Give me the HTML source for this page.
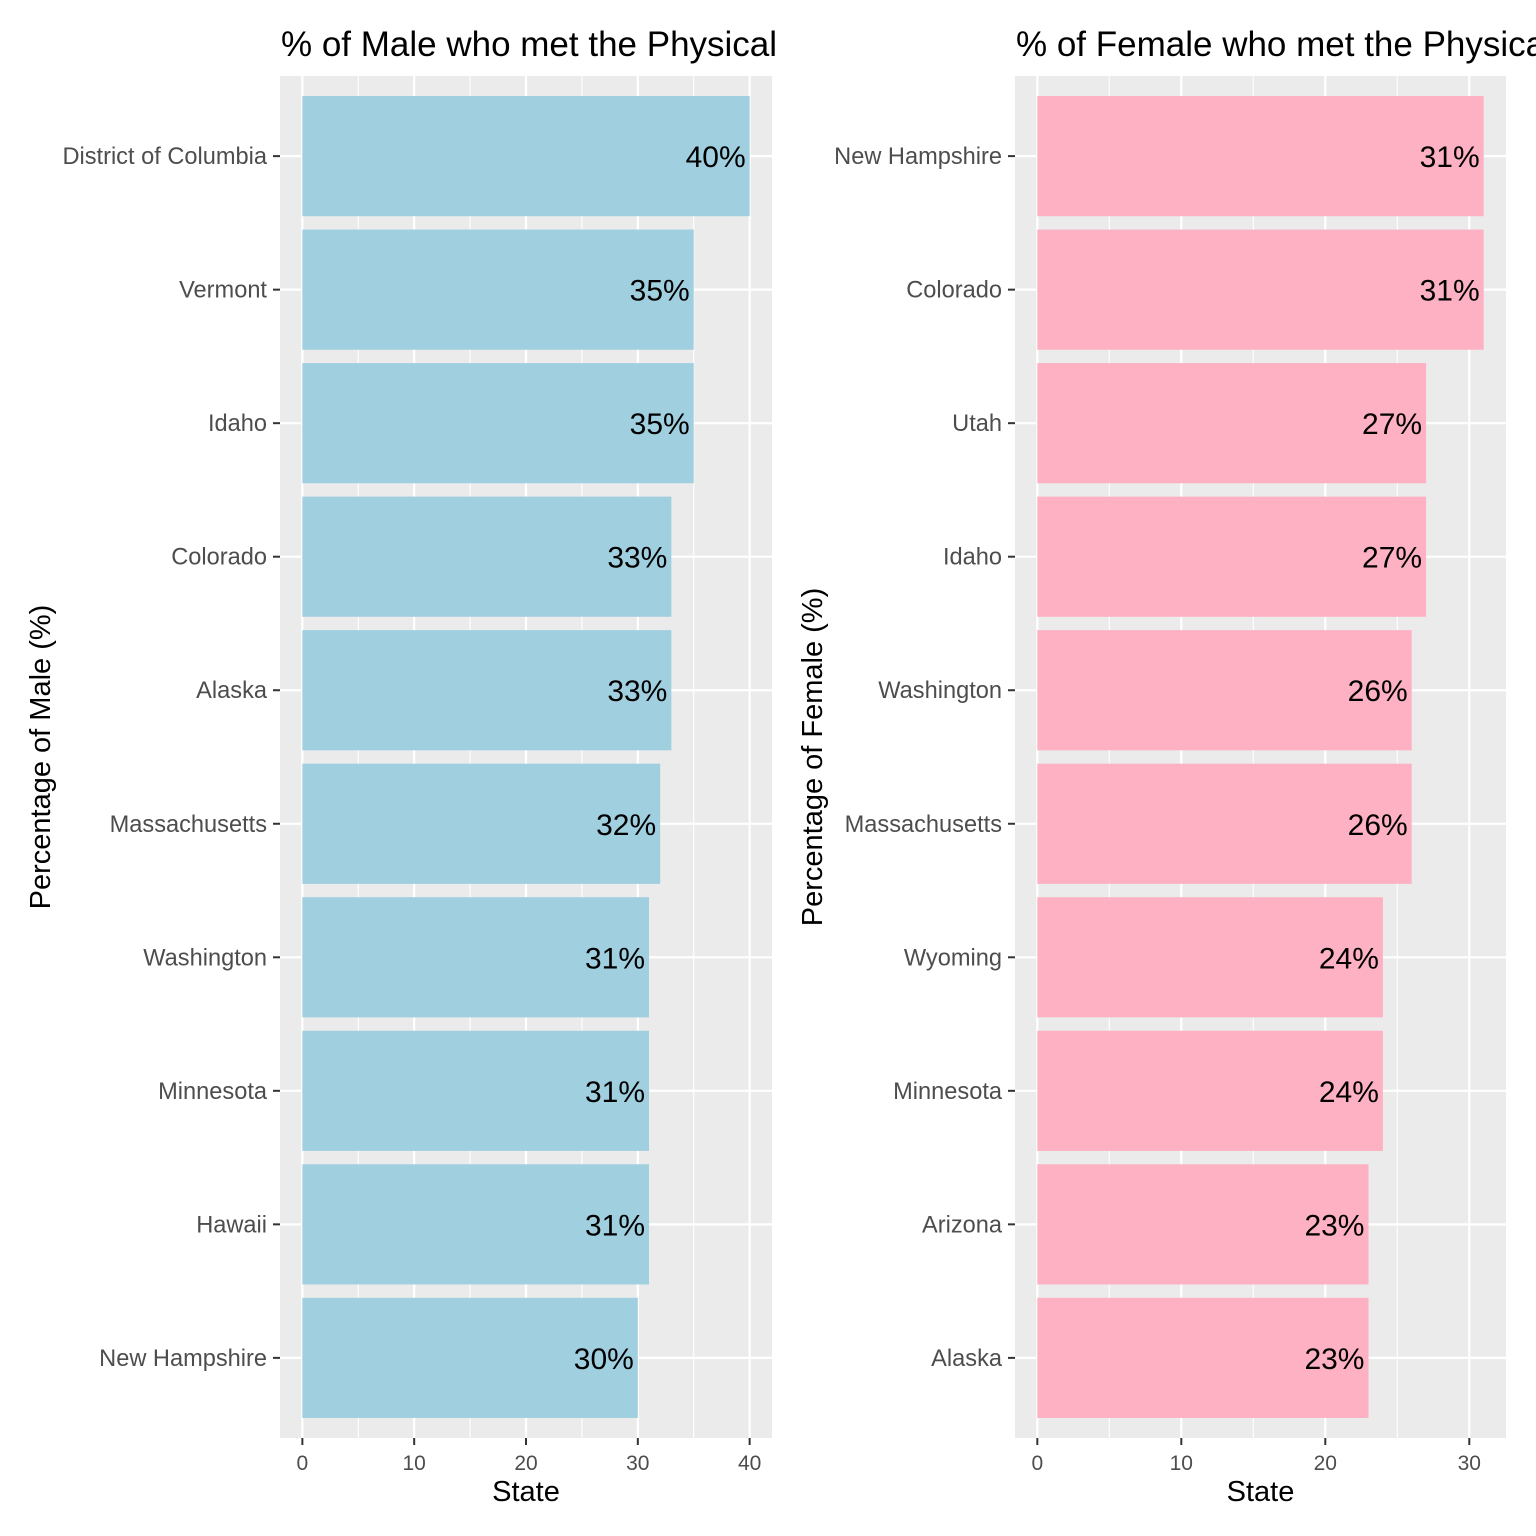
<!DOCTYPE html>
<html><head><meta charset="utf-8"><style>
html,body{margin:0;padding:0;background:#fff}
svg{display:block;font-family:"Liberation Sans",Arial,sans-serif}
</style></head><body>
<svg id="chart" width="1536" height="1536" viewBox="0 0 1536 1536">
<defs>
<clipPath id="clipL"><rect x="0" y="0" width="780" height="1536"/></clipPath>
<clipPath id="clipR"><rect x="782" y="0" width="754" height="1536"/></clipPath>
</defs>
</svg>
<script>
const maleStates=["District of Columbia","Vermont","Idaho","Colorado","Alaska","Massachusetts","Washington","Minnesota","Hawaii","New Hampshire"];
const maleValues=[40,35,35,33,33,32,31,31,31,30];
const femaleStates=["New Hampshire","Colorado","Utah","Idaho","Washington","Massachusetts","Wyoming","Minnesota","Arizona","Alaska"];
const femaleValues=[31,31,27,27,26,26,24,24,23,23];
const maleTicks=[0,10,20,30,40];
const femaleTicks=[0,10,20,30];

const NS="http://www.w3.org/2000/svg";
const svg=document.getElementById('chart');
function mk(tag,attrs,parent,text){const e=document.createElementNS(NS,tag);for(const k in attrs)e.setAttribute(k,attrs[k]);if(text!==undefined)e.textContent=text;(parent||svg).appendChild(e);return e;}

function panel(cfg){
  const g=mk('g',{'clip-path':cfg.clip});
  
  
  const top=76,bottom=1438,left=cfg.left,right=cfg.right;
  const n=cfg.states.length;
  const maxV=Math.max(...cfg.values);
  const dom0=-maxV*0.05,dom1=maxV*1.05;
  const x=v=>left+(v-dom0)/(dom1-dom0)*(right-left);
  const bandStep=(bottom-top)/(n-1+1.2);
  const y=i=>top+bandStep*(0.6+i);
  const bg=mk('rect',{x:left,y:top,width:right-left,height:bottom-top,fill:'#ebebeb'},g);
  
  
  const step=cfg.ticks[1]-cfg.ticks[0];
  for(let v=cfg.ticks[0]-step/2;v<=dom1;v+=step){if(v<dom0)continue;
    const l=mk('line',{x1:x(v),x2:x(v),y1:top,y2:bottom,stroke:'#fff','stroke-width':1.1},g);
    
    }
  cfg.ticks.forEach(v=>{
    const l=mk('line',{x1:x(v),x2:x(v),y1:top,y2:bottom,stroke:'#fff','stroke-width':2.2},g);
    
    
    const t=mk('line',{x1:x(v),x2:x(v),y1:bottom,y2:bottom+7,stroke:'#333','stroke-width':2},g);
    
    
    const tl=mk('text',{x:x(v),y:bottom+32,'font-size':21,fill:'#4d4d4d','text-anchor':'middle'},g,String(v));
    
    
  });
  cfg.states.forEach((s,i)=>{
    const l=mk('line',{x1:left,x2:right,y1:y(i),y2:y(i),stroke:'#fff','stroke-width':2.2},g);
    
    
  });
  cfg.states.forEach((s,i)=>{
    const bh=bandStep*0.9;
    const b=mk('rect',{x:x(0),y:y(i)-bh/2,width:x(cfg.values[i])-x(0),height:bh,fill:cfg.color},g);
    
    
    const vl=mk('text',{x:x(cfg.values[i])-4,y:y(i)+11,'font-size':30,fill:'#000','text-anchor':'end'},g,cfg.values[i]+'%');
    
    
    const t=mk('line',{x1:left-7,x2:left,y1:y(i),y2:y(i),stroke:'#333','stroke-width':2},g);
    
    
    const tl=mk('text',{x:left-13,y:y(i)+8,'font-size':23.6,fill:'#4d4d4d','text-anchor':'end'},g,s);
    
    
  });
  const ti=mk('text',{x:left+1,y:56,'font-size':35,fill:'#000'},g,cfg.title);
  
  
  const xt=mk('text',{x:(left+right)/2,y:1501,'font-size':29,fill:'#000','text-anchor':'middle'},g,'State');
  
  
  const cy=(top+bottom)/2;
  const yt=mk('text',{x:cfg.ytx,y:cy,'font-size':29,fill:'#000','text-anchor':'middle',transform:`rotate(-90 ${cfg.ytx} ${cy})`},g,cfg.ytitle);
  
  
}
panel({name:'male',clip:'url(#clipL)',left:280,right:772,states:maleStates,values:maleValues,ticks:maleTicks,color:'#a0cfe0',
  title:'% of Male who met the Physical Activity Guidelines',ytitle:'Percentage of Male (%)',ytx:50});
panel({name:'female',clip:'url(#clipR)',left:1015,right:1506,states:femaleStates,values:femaleValues,ticks:femaleTicks,color:'#fdb1c2',
  title:'% of Female who met the Physical Activity Guidelines',ytitle:'Percentage of Female (%)',ytx:822});
</script>
</body></html>
